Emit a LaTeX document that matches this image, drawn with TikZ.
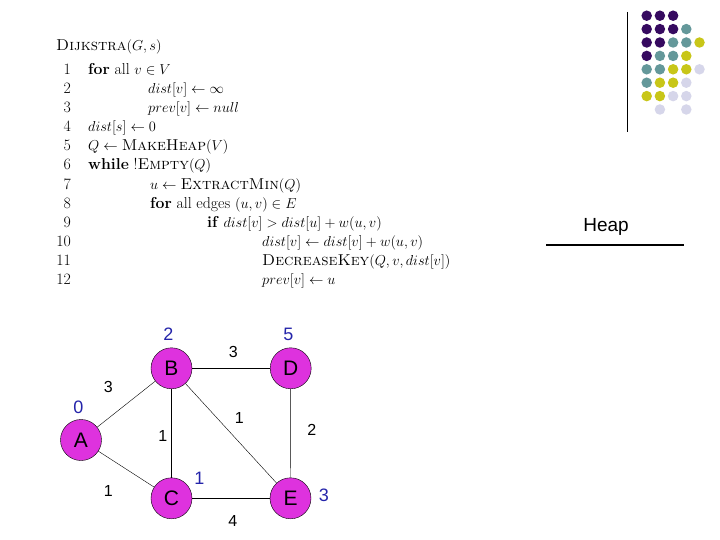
\documentclass[tikz,border=0pt]{standalone}
\usepackage{fontspec}
\newfontfamily\arial{Liberation Sans}
\definecolor{nodefill}{RGB}{222,50,222}
\definecolor{lblblue}{RGB}{36,36,170}
\definecolor{dpurple}{RGB}{54,10,96}
\definecolor{dteal}{RGB}{100,152,154}
\definecolor{dyellow}{RGB}{200,198,24}
\definecolor{dlav}{RGB}{214,214,234}
\tikzset{
  code/.style={anchor=mid west, inner sep=0pt, font=\fontsize{15.8}{19}\selectfont},
  num/.style={anchor=mid east, inner sep=0pt, font=\fontsize{15.8}{19}\selectfont},
  vert/.style={circle, draw=black, thin, fill=nodefill, minimum size=41pt, inner sep=0pt, font=\arial\fontsize{21}{24}\selectfont},
  dist/.style={inner sep=0pt, text=lblblue, font=\arial\fontsize{18}{20}\selectfont},
  wt/.style={inner sep=0pt, text=black, font=\arial\fontsize{16}{18}\selectfont},
  edge/.style={draw=black, thin},
  dot/.style={circle, inner sep=0pt, minimum size=10.5pt},
}
\newcommand\mydot[3]{\node[dot, fill=#3] at ({646.7+13.2*#1},{15.7+13.4*#2}) {};}
\begin{document}
\begin{tikzpicture}[x=1pt,y=-1pt]
\useasboundingbox[fill=white] (0,0) rectangle (720,540);
% pseudocode
\node[code] (title) at (56,48) {\textsc{Dijkstra}$(G,s)$};
\node[num] (n1) at (71,72) {1};
\node[num] (n2) at (71,91) {2};
\node[num] (n3) at (71,110) {3};
\node[num] (n4) at (71,129) {4};
\node[num] (n5) at (71,148) {5};
\node[num] (n6) at (71,167) {6};
\node[num] (n7) at (71,187) {7};
\node[num] (n8) at (71,206) {8};
\node[num] (n9) at (71,225) {9};
\node[num] (n10) at (71,244) {10};
\node[num] (n11) at (71,263) {11};
\node[num] (n12) at (71,282) {12};
\node[code] (l1) at (88,72) {\textbf{for} all $v\in V$};
\node[code] (l2) at (148,91) {$dist[v]\leftarrow\infty$};
\node[code] (l3) at (148,110) {$prev[v]\leftarrow null$};
\node[code] (l4) at (88,129) {$dist[s]\leftarrow 0$};
\node[code] (l5) at (88,148) {$Q\leftarrow{}$\textsc{MakeHeap}$(V)$};
\node[code] (l6) at (88,167) {\textbf{while} !\textsc{Empty}$(Q)$};
\node[code] (l7) at (150,187) {$u\leftarrow{}$\textsc{ExtractMin}$(Q)$};
\node[code] (l8) at (150,206) {\textbf{for} all edges $(u,v)\in E$};
\node[code] (l9) at (207,225) {\textbf{if} $dist[v] > dist[u]+w(u,v)$};
\node[code] (l10) at (262,244) {$dist[v]\leftarrow dist[v]+w(u,v)$};
\node[code] (l11) at (262,263) {\textsc{DecreaseKey}$(Q,v,dist[v])$};
\node[code] (l12) at (262,282) {$prev[v]\leftarrow u$};
% heap
\node[inner sep=0pt, font=\arial\fontsize{19}{21}\selectfont] (heap) at (606,227) {Heap};
\coordinate (hl) at (546,245);
\coordinate (hr) at (684,245);
\draw[line width=2.5pt] (hl) -- (hr);
% decoration
\coordinate (vt) at (627,12);
\coordinate (vb) at (627,132);
\draw[line width=1pt] (vt) -- (vb);
\mydot{0}{0}{dpurple}\mydot{1}{0}{dpurple}\mydot{2}{0}{dpurple}
\mydot{0}{1}{dpurple}\mydot{1}{1}{dpurple}\mydot{2}{1}{dpurple}\mydot{3}{1}{dteal}
\mydot{0}{2}{dpurple}\mydot{1}{2}{dpurple}\mydot{2}{2}{dteal}\mydot{3}{2}{dteal}\mydot{4}{2}{dyellow}
\mydot{0}{3}{dpurple}\mydot{1}{3}{dteal}\mydot{2}{3}{dteal}\mydot{3}{3}{dyellow}
\mydot{0}{4}{dteal}\mydot{1}{4}{dteal}\mydot{2}{4}{dyellow}\mydot{3}{4}{dyellow}\mydot{4}{4}{dlav}
\mydot{0}{5}{dteal}\mydot{1}{5}{dyellow}\mydot{2}{5}{dyellow}\mydot{3}{5}{dlav}
\mydot{0}{6}{dyellow}\mydot{1}{6}{dyellow}\mydot{2}{6}{dlav}\mydot{3}{6}{dlav}
\mydot{1}{7}{dlav}\mydot{3}{7}{dlav}
% graph
\node[vert] (A) at (81,440) {A};
\node[vert] (B) at (171.5,368.3) {B};
\node[vert] (D) at (290.7,368.3) {D};
\node[vert] (C) at (171.5,498.3) {C};
\node[vert] (E) at (290.5,498.3) {E};
\draw[edge] (A) -- (B);
\draw[edge] (A) -- (C);
\draw[edge] (B) -- (D);
\draw[edge] (B) -- (C);
\draw[edge] (B) -- (E);
\draw[edge] (D) -- (E);
\draw[edge] (C) -- (E);
\node[dist] (dA) at (78.3,407.3) {0};
\node[dist] (dB) at (168.3,334) {2};
\node[dist] (dD) at (288.3,334) {5};
\node[dist] (dC) at (199.3,478.3) {1};
\node[dist] (dE) at (324,495.7) {3};
\node[wt] (wAB) at (108.3,386.7) {3};
\node[wt] (wBD) at (233.3,351.7) {3};
\node[wt] (wBC) at (162.7,436) {1};
\node[wt] (wBE) at (239.3,418.3) {1};
\node[wt] (wDE) at (311.7,430) {2};
\node[wt] (wAC) at (108.3,490.7) {1};
\node[wt] (wCE) at (232.7,520.7) {4};
\end{tikzpicture}
\end{document}
